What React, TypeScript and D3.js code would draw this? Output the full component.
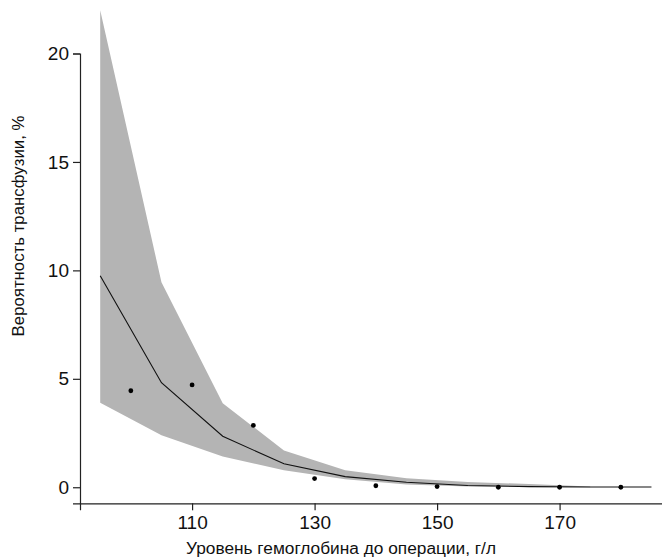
import React, { useEffect, useRef } from "react";
import * as d3 from "d3";

const fitX = [95, 105, 115, 125, 135, 145, 155, 165, 175, 185];
const fitY = [9.75, 4.82, 2.35, 1.08, 0.49, 0.23, 0.08, 0.03, 0.01, 0.01];

const bandX = [95, 105, 115, 125, 135, 145, 155, 165, 175];
const bandUpper = [22.0, 9.45, 3.87, 1.7, 0.78, 0.42, 0.24, 0.15, 0.04];
const bandLower = [3.9, 2.4, 1.42, 0.78, 0.37, 0.13, 0.04, 0.01, 0.0];

const obsX = [100, 110, 120, 130, 140, 150, 160, 170, 180];
const obsY = [4.45, 4.72, 2.85, 0.4, 0.07, 0.03, 0.0, 0.0, 0.0];

const xTicks = [110, 130, 150, 170];
const yTicks = [0, 5, 10, 15, 20];

const xTitle = "Уровень гемоглобина до операции, г/л";
const yTitle = "Вероятность трансфузии, %";

const W = 662;
const H = 558;

export default function App() {
  const ref = useRef<SVGSVGElement | null>(null);

  useEffect(() => {
    const svg = d3.select(ref.current);
    svg.selectAll("*").remove();

    const x = d3.scaleLinear().domain([91.7, 187.7]).range([80, 668]);
    const y = d3.scaleLinear().domain([-0.74, 20]).range([503.3, 53.5]);

    const font = "'Liberation Sans', Arial, sans-serif";

    const bandData = bandX.map((v, i) => ({ x: v, lo: bandLower[i], hi: bandUpper[i] }));
    const area = d3
      .area<{ x: number; lo: number; hi: number }>()
      .x((d) => x(d.x))
      .y0((d) => y(d.lo))
      .y1((d) => y(d.hi));
    svg.append("path").attr("d", area(bandData) as string).attr("fill", "#b4b4b4");

    const lineData = fitX.map((v, i) => [v, fitY[i]] as [number, number]);
    const line = d3
      .line<[number, number]>()
      .x((d) => x(d[0]))
      .y((d) => y(d[1]));
    svg
      .append("path")
      .attr("d", line(lineData) as string)
      .attr("fill", "none")
      .attr("stroke", "#111")
      .attr("stroke-width", 1.1);

    svg
      .append("g")
      .selectAll("circle")
      .data(obsX.map((v, i) => [v, obsY[i]]))
      .join("circle")
      .attr("cx", (d) => x(d[0]))
      .attr("cy", (d) => y(d[1]))
      .attr("r", 2.4)
      .attr("fill", "#000");

    const yAxis = d3
      .axisLeft(y)
      .tickValues(yTicks)
      .tickSizeInner(7)
      .tickSizeOuter(7)
      .tickPadding(4)
      .tickFormat((d) => String(d));
    const gy = svg.append("g").attr("transform", "translate(80,0)").call(yAxis);

    const xAxis = d3
      .axisBottom(x)
      .tickValues(xTicks)
      .tickSizeInner(7)
      .tickSizeOuter(7)
      .tickPadding(5)
      .tickFormat((d) => String(d));
    const gx = svg.append("g").attr("transform", "translate(0,503.3)").call(xAxis);

    [gx, gy].forEach((g) => {
      g.selectAll("path, line").attr("stroke", "#222").attr("stroke-width", 1.2);
      g.selectAll("text")
        .attr("fill", "#111")
        .style("font-family", font)
        .style("font-size", "19px");
    });

    svg
      .append("text")
      .attr("x", 341)
      .attr("y", 554)
      .attr("text-anchor", "middle")
      .style("font-family", font)
      .style("font-size", "17.3px")
      .attr("fill", "#111")
      .text(xTitle);

    svg
      .append("text")
      .attr("transform", "translate(24,226) rotate(-90)")
      .attr("text-anchor", "middle")
      .style("font-family", font)
      .style("font-size", "16.8px")
      .attr("fill", "#111")
      .text(yTitle);
  }, []);

  return (
    <svg
      ref={ref}
      width={W}
      height={H}
      style={{ position: "absolute", left: 0, top: 0, background: "#fff" }}
    />
  );
}
